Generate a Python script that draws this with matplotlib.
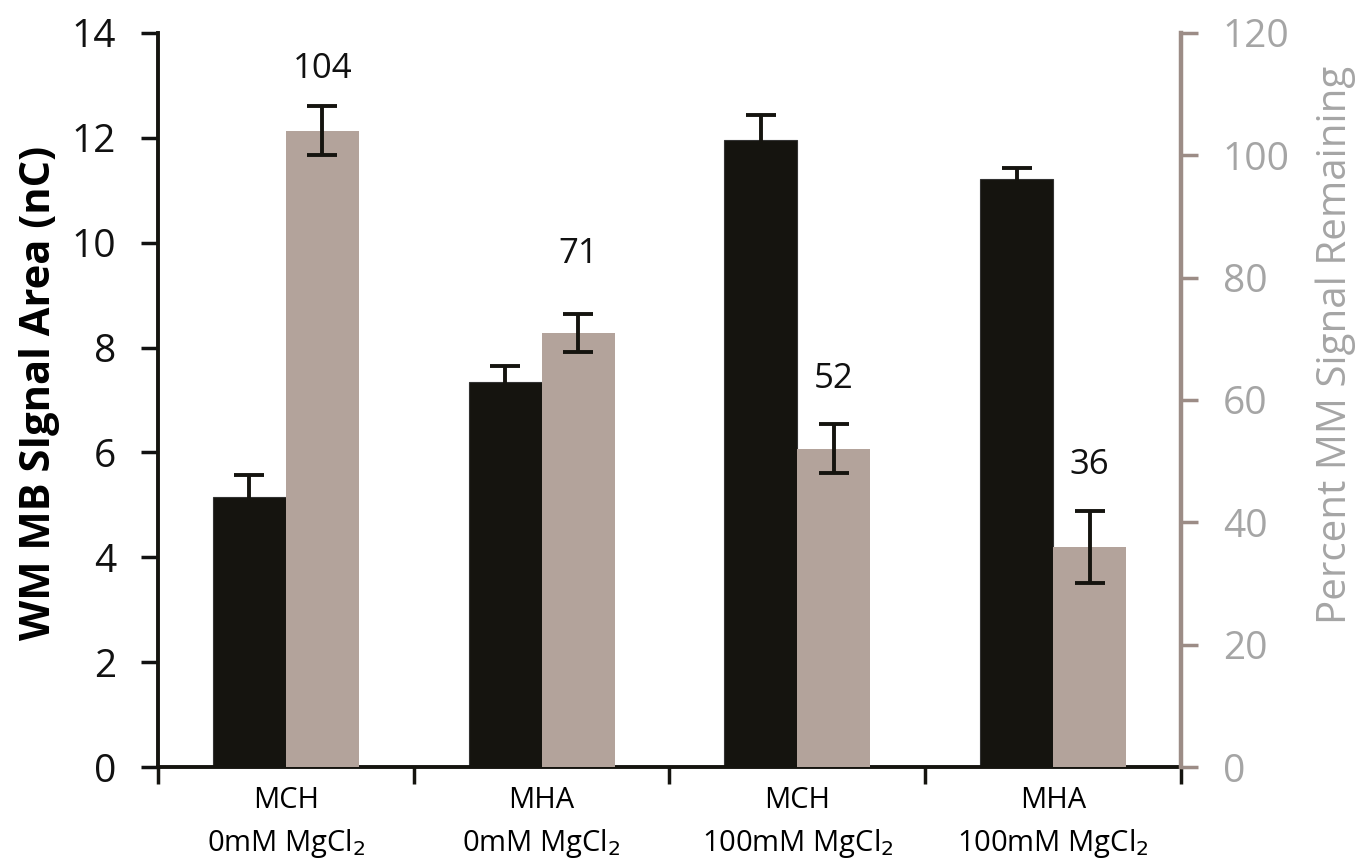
import matplotlib
matplotlib.use("Agg")
import matplotlib.pyplot as plt
import numpy as np

CATEGORIES = ["MCH\n0mM MgCl$_2$", "MHA\n0mM MgCl$_2$", "MCH\n100mM MgCl$_2$", "MHA\n100mM MgCl$_2$"]
SIGNAL_AREA = [5.15, 7.35, 11.95, 11.22]      # nC, left axis
SIGNAL_AREA_ERR = [0.42, 0.30, 0.48, 0.20]
PERCENT_REMAINING = [104, 71, 52, 36]         # right axis
PERCENT_ERR = [4.0, 3.1, 4.0, 5.9]
VALUE_LABELS = ["104", "71", "52", "36"]

# label gap above error bar (points) - hand tuned like the original
LABEL_GAP = [27, 43, 33, 33]

BLACK = "#15140f"
TAUPE = "#b3a39b"
TAUPE_SPINE = "#9c8c86"
GREY_TEXT = "#a5a5a5"


def main() -> None:
    plt.rcParams["font.family"] = ["Open Sans", "DejaVu Sans"]
    fig = plt.figure(figsize=(13.58, 8.67), dpi=100)
    ax = fig.add_axes([0.1163, 0.1153, 0.7534, 0.8467])
    ax2 = ax.twinx()

    x = np.arange(len(CATEGORIES))
    width = 0.285

    ax.bar(x - width / 2, SIGNAL_AREA, width=width, color=BLACK, edgecolor="#333", linewidth=0.8, zorder=2)
    ax.errorbar(x - width / 2, SIGNAL_AREA, yerr=SIGNAL_AREA_ERR, fmt="none", ecolor=BLACK,
                elinewidth=2.8, capsize=11, capthick=2.8, zorder=3)

    ax2.bar(x + width / 2, PERCENT_REMAINING, width=width, color=TAUPE, linewidth=0, zorder=2)
    ax2.errorbar(x + width / 2, PERCENT_REMAINING, yerr=PERCENT_ERR, fmt="none", ecolor=BLACK,
                 elinewidth=2.8, capsize=11, capthick=2.8, zorder=3)

    for xi, val, err, lab, gap in zip(x, PERCENT_REMAINING, PERCENT_ERR, VALUE_LABELS, LABEL_GAP):
        ax2.annotate(lab, (xi + width / 2, val + err), xytext=(0, gap), textcoords="offset points",
                     ha="center", va="center", fontsize=25, color="#111")

    # left axis
    ax.set_xlim(-0.5, len(CATEGORIES) - 0.5)
    ax.set_ylim(0, 14)
    ax.set_yticks(np.arange(0, 15, 2))
    ax.tick_params(axis="y", direction="out", length=12, width=2.5, labelsize=28, pad=18, colors="#111")
    ax.set_ylabel("WM MB SIgnal Area (nC)", fontsize=30, fontweight="bold", va="center")
    ax.yaxis.set_label_coords(-0.116, 0.51)

    # right axis
    ax2.set_ylim(0, 120)
    ax2.set_yticks(np.arange(0, 121, 20))
    ax2.tick_params(axis="y", direction="out", length=12, width=2.5, labelsize=28, pad=18,
                    colors=TAUPE_SPINE, labelcolor=GREY_TEXT)
    ax2.set_ylabel("Percent MM Signal Remaining", fontsize=29, color=GREY_TEXT, rotation=90, va="center")
    ax2.yaxis.set_label_coords(1.151, 0.575)

    # x axis: labels at centers, ticks at category boundaries
    ax.set_xticks(x)
    ax.set_xticklabels(CATEGORIES, fontsize=21, linespacing=1.5)
    ax.tick_params(axis="x", length=0, pad=14)
    ax.set_xticks(np.arange(-0.5, len(CATEGORIES), 1.0), minor=True)
    ax.tick_params(axis="x", which="minor", direction="out", length=12, width=2.5, color=BLACK)

    for a in (ax, ax2):
        a.spines["top"].set_visible(False)
    ax.spines["right"].set_visible(False)
    ax2.spines["left"].set_visible(False)
    ax2.spines["bottom"].set_visible(False)
    ax.spines["left"].set_linewidth(2.8)
    ax.spines["left"].set_color(BLACK)
    ax.spines["bottom"].set_linewidth(2.8)
    ax.spines["bottom"].set_color(BLACK)
    ax2.spines["right"].set_linewidth(3.2)
    ax2.spines["right"].set_color(TAUPE_SPINE)

    fig.savefig("out.png", dpi=100)


if __name__ == "__main__":
    main()
